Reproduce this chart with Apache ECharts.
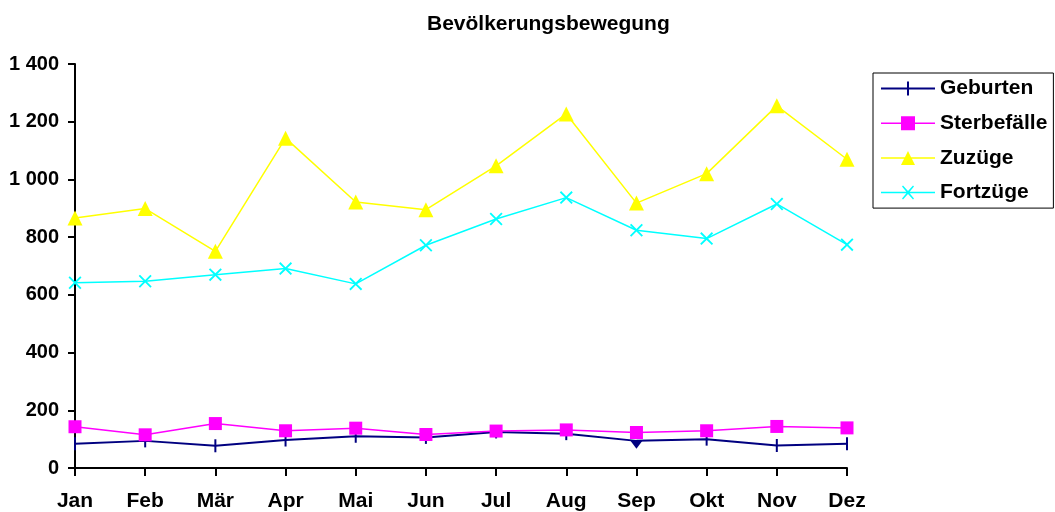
<!DOCTYPE html>
<html>
<head>
<meta charset="utf-8">
<script src="https://cdn.jsdelivr.net/npm/echarts@6/dist/echarts.min.js"></script>
<style>
  html, body { margin: 0; padding: 0; background: #fff; }
  #main { width: 1055px; height: 512px; }
</style>
</head>
<body>
<div id="main"></div>
<script>
var months = ["Jan", "Feb", "Mär", "Apr", "Mai", "Jun", "Jul", "Aug", "Sep", "Okt", "Nov", "Dez"];
var geburten = [84, 94, 77, 97, 110, 106, 125, 119, 94, 100, 78, 84];
var sterbefaelle = [143, 115, 154, 129, 138, 116, 128, 132, 123, 129, 144, 139];
var zuzuege = [866, 899, 751, 1143, 922, 895, 1047, 1227, 918, 1020, 1255, 1070];
var fortzuege = [642, 647, 670, 691, 638, 772, 863, 937, 824, 795, 915, 774];

var font = "'Liberation Sans', Arial, sans-serif";
// X-shaped marker as a filled polygon
var crossPath = "path://M0,1 L1,0 L5,4 L9,0 L10,1 L6,5 L10,9 L9,10 L5,6 L1,10 L0,9 L4,5 Z";

// legend icons: line + marker, drawn in a 54x14 box
var legendIcons = {
  "Geburten": "path://M0,6 L26,6 L26,0 L28,0 L28,6 L54,6 L54,8 L28,8 L28,14 L26,14 L26,8 L0,8 Z",
  "Sterbefälle": "path://M0,6.25 L20,6.25 L20,0 L34,0 L34,6.25 L54,6.25 L54,7.75 L34,7.75 L34,14 L20,14 L20,7.75 L0,7.75 Z",
  "Zuzüge": "path://M0,6.25 L23.9,6.25 L27,0 L30.1,6.25 L54,6.25 L54,7.75 L30.9,7.75 L34,14 L20,14 L23.1,7.75 L0,7.75 Z",
  "Fortzüge": "path://M0,6.25 L54,6.25 L54,7.75 L0,7.75 Z M21,1 L22,0 L27,5.5 L32,0 L33,1 L28,7 L33,13 L32,14 L27,8.5 L22,14 L21,13 L26,7 Z"
};

// Sep point in Geburten is drawn as a small dark down triangle
var geburtenData = geburten.map(function (v, i) {
  if (months[i] === "Sep") {
    return { value: v, symbol: "triangle", symbolRotate: 180, symbolSize: [12, 8], symbolOffset: [0, 4] };
  }
  return v;
});

var myChart = echarts.init(document.getElementById("main"));
myChart.setOption({
  animation: false,
  title: {
    text: "Bevölkerungsbewegung",
    left: 422,
    top: 9,
    textStyle: { fontFamily: font, fontSize: 21, fontWeight: "bold", color: "#000" }
  },
  legend: {
    orient: "vertical",
    left: 873,
    top: 73,
    padding: [5, 6, 5, 8],
    itemGap: 13.7,
    itemWidth: 54,
    itemHeight: 14,
    borderColor: "#000",
    borderWidth: 1,
    textStyle: { fontFamily: font, fontSize: 21, fontWeight: "bold", color: "#000" },
    data: ["Geburten", "Sterbefälle", "Zuzüge", "Fortzüge"].map(function (n) {
      return { name: n, icon: legendIcons[n] };
    })
  },
  grid: {
    left: 75,
    right: 208,
    top: 64,
    bottom: 43
  },
  xAxis: {
    type: "category",
    data: months,
    boundaryGap: false,
    axisLine: { lineStyle: { color: "#000", width: 2 } },
    axisTick: { length: 8, lineStyle: { color: "#000", width: 2 }, alignWithLabel: true },
    axisLabel: { margin: 23, fontFamily: font, fontSize: 21, fontWeight: "bold", color: "#000" },
    splitLine: { show: false }
  },
  yAxis: {
    type: "value",
    min: 0,
    max: 1400,
    interval: 200,
    axisLine: { show: true, lineStyle: { color: "#000", width: 2 } },
    axisTick: { show: true, length: 7, lineStyle: { color: "#000", width: 2 } },
    axisLabel: {
      margin: 16,
      fontFamily: font,
      fontSize: 20,
      fontWeight: "bold",
      color: "#000",
      formatter: function (v) {
        return String(v).replace(/\B(?=(\d{3})+(?!\d))/g, " ");
      }
    },
    splitLine: { show: false }
  },
  series: [
    {
      name: "Geburten",
      type: "line",
      data: geburtenData,
      symbol: "rect",
      symbolSize: [2, 13],
      lineStyle: { color: "#000080", width: 2 },
      itemStyle: { color: "#000080" }
    },
    {
      name: "Sterbefälle",
      type: "line",
      data: sterbefaelle,
      symbol: "rect",
      symbolSize: 13,
      lineStyle: { color: "#ff00ff", width: 1.5 },
      itemStyle: { color: "#ff00ff" }
    },
    {
      name: "Zuzüge",
      type: "line",
      data: zuzuege,
      symbol: "triangle",
      symbolSize: 15,
      lineStyle: { color: "#ffff00", width: 1.5 },
      itemStyle: { color: "#ffff00" }
    },
    {
      name: "Fortzüge",
      type: "line",
      data: fortzuege,
      symbol: crossPath,
      symbolSize: 13,
      lineStyle: { color: "#00ffff", width: 1.5 },
      itemStyle: { color: "#00ffff" }
    }
  ]
});
</script>
</body>
</html>
